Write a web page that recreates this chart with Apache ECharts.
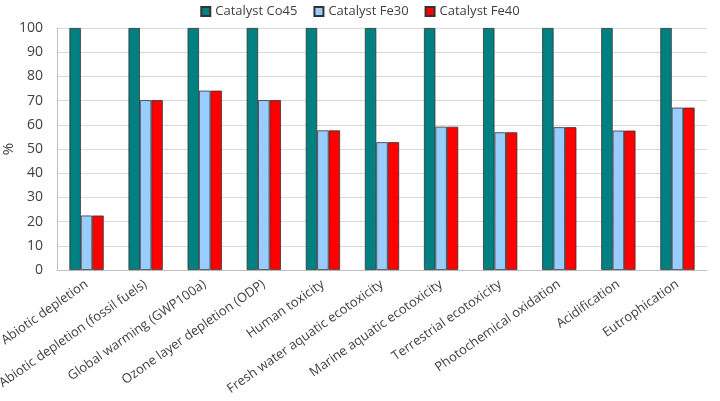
<!DOCTYPE html>
<html>
<head>
<meta charset="utf-8">
<script src="https://cdn.jsdelivr.net/npm/echarts@6/dist/echarts.min.js"></script>
<style>
  html, body { margin: 0; padding: 0; background: #fff; }
  #chart { width: 720px; height: 401px; }
</style>
</head>
<body>
<div id="chart"></div>
<script>
const categories = [
  'Abiotic depletion',
  'Abiotic depletion (fossil fuels)',
  'Global warming (GWP100a)',
  'Ozone layer depletion (ODP)',
  'Human toxicity',
  'Fresh water aquatic ecotoxicity',
  'Marine aquatic ecotoxicity',
  'Terrestrial ecotoxicity',
  'Photochemical oxidation',
  'Acidification',
  'Eutrophication'
];
const co45 = [100, 100, 100, 100, 100, 100, 100, 100, 100, 100, 100];
const fe30 = [22.5, 70.2, 74.1, 70.2, 57.7, 52.8, 59.2, 56.9, 59.0, 57.6, 67.1];
const fe40 = [22.5, 70.2, 74.1, 70.2, 57.7, 52.8, 59.2, 56.9, 59.0, 57.6, 67.1];

const font = '"Open Sans", "Liberation Sans", sans-serif';
const textColor = '#404040';

const chart = echarts.init(document.getElementById('chart'));

function bar(name, data, color) {
  return {
    name: name,
    type: 'bar',
    data: data,
    barGap: '0%',
    barCategoryGap: '42%',
    itemStyle: { color: color, borderColor: '#333', borderWidth: 0.8 }
  };
}

chart.setOption({
  animation: false,
  textStyle: { fontFamily: font },
  legend: {
    top: 0,
    left: 'center',
    itemWidth: 9,
    itemHeight: 9,
    itemGap: 16,
    icon: 'rect',
    textStyle: { fontSize: 13, color: textColor, fontFamily: font },
    data: ['Catalyst Co45', 'Catalyst Fe30', 'Catalyst Fe40']
  },
  grid: { left: 57, right: 13, top: 28, bottom: 131, outerBoundsMode: 'none' },
  xAxis: {
    type: 'category',
    data: categories,
    axisLine: { lineStyle: { color: '#bfbfbf' } },
    axisTick: { alignWithLabel: true, length: 4, lineStyle: { color: '#bfbfbf' } },
    axisLabel: {
      rotate: 35,
      interval: 0,
      fontSize: 13,
      color: textColor,
      fontFamily: font,
      margin: 13
    }
  },
  yAxis: {
    type: 'value',
    min: 0,
    max: 100,
    interval: 10,
    name: '%',
    nameLocation: 'middle',
    nameGap: 41,
    nameMoveOverlap: false,
    nameTextStyle: { fontSize: 15, color: textColor, fontFamily: font },
    axisLine: { show: true, lineStyle: { color: '#bfbfbf' } },
    axisTick: { show: false },
    axisLabel: { fontSize: 14, color: textColor, fontFamily: font, margin: 14 },
    splitLine: { lineStyle: { color: '#d9d9d9' } }
  },
  series: [
    bar('Catalyst Co45', co45, '#008080'),
    bar('Catalyst Fe30', fe30, '#99ccff'),
    bar('Catalyst Fe40', fe40, '#ff0000')
  ]
});
</script>
</body>
</html>
